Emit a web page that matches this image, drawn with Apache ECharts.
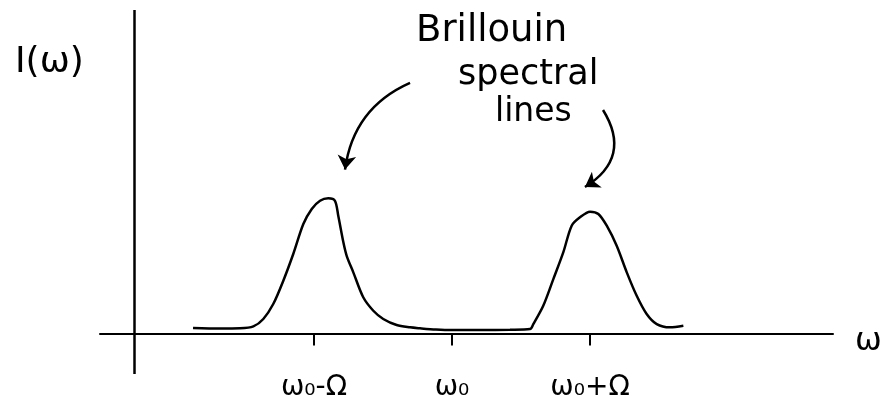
<!DOCTYPE html>
<html>
<head>
<meta charset="utf-8">
<script src="https://cdn.jsdelivr.net/npm/echarts@6/dist/echarts.min.js"></script>
<style>html,body{margin:0;padding:0;background:#fff}#c{width:893px;height:399px}</style>
</head>
<body>
<div id="c"></div>
<script>
// frequency in units of Omega, measured from omega_0
const omegaX = [-1.876,-1.681,-1.536,-1.439,-1.367,-1.295,-1.222,-1.150,-1.077,-1.016,-0.956,-0.896,-0.848,-0.824,-0.787,-0.763,-0.715,-0.643,-0.570,-0.498,-0.401,-0.304,-0.232,-0.116,0,0.203,0.420,0.565,0.589,0.661,0.734,0.806,0.867,0.927,1.000,1.060,1.121,1.193,1.266,1.338,1.410,1.483,1.579,1.676];
// intensity I(omega), arbitrary units
const intensity = [0.041,0.037,0.039,0.053,0.108,0.219,0.392,0.590,0.812,0.924,0.985,1.003,0.985,0.874,0.677,0.577,0.454,0.269,0.169,0.108,0.063,0.046,0.039,0.030,0.026,0.026,0.028,0.033,0.070,0.206,0.404,0.602,0.800,0.862,0.904,0.887,0.800,0.651,0.454,0.280,0.145,0.070,0.046,0.058];
const tickValues = [-1, 0, 1];
const tickLabels = ['ω₀-Ω', 'ω₀', 'ω₀+Ω'];
const yAxisPos = -2.304;
const annotationLines = ['Brillouin', 'spectral', 'lines'];
// arrow endpoints [x, I]
const arrowLeft = [[-0.304, 1.859], [-0.775, 1.216]];
const arrowRight = [[1.094, 1.658], [0.963, 1.087]];

const FONT = 'DejaVu Sans';
const chart = echarts.init(document.getElementById('c'));
chart.setOption({
  animation: false,
  backgroundColor: '#fff',
  title: {
    text: 'I(ω)', left: 10, top: 40,
    textStyle: { fontFamily: FONT, fontSize: 36, fontWeight: 'normal', color: '#000' }
  },
  graphic: [
    { type: 'text', left: 416, top: 13, style: { text: annotationLines[0], font: '37px "DejaVu Sans"', fill: '#000' } },
    { type: 'text', left: 458, top: 57, style: { text: annotationLines[1], font: '35px "DejaVu Sans"', fill: '#000' } },
    { type: 'text', left: 495, top: 96, style: { text: annotationLines[2], font: '33px "DejaVu Sans"', fill: '#000' } }
  ],
  grid: { left: 100, right: 60, top: 10, bottom: 25, outerBoundsMode: 'none', containLabel: false },
  xAxis: {
    type: 'value', min: -2.55, max: 2.76,
    name: 'ω', nameLocation: 'end', nameGap: 22,
    nameTextStyle: { fontFamily: FONT, fontSize: 32, color: '#000', verticalAlign: 'top', lineHeight: 16 },
    axisLine: { onZero: true, lineStyle: { color: '#000', width: 2 } },
    axisTick: { show: true, customValues: tickValues, length: 12, lineStyle: { color: '#000', width: 2 } },
    axisLabel: {
      show: true, customValues: tickValues, margin: 0,
      fontFamily: FONT, fontSize: 28, color: '#000',
      formatter: v => tickLabels[tickValues.indexOf(Math.round(v))]
    },
    splitLine: { show: false }
  },
  yAxis: {
    type: 'value', min: -0.3, max: 2.4,
    axisLine: { show: false }, axisTick: { show: false }, axisLabel: { show: false }, splitLine: { show: false }
  },
  series: [
    {
      type: 'line', smooth: 0.3, symbol: 'none',
      data: omegaX.map((x, i) => [x, intensity[i]]),
      lineStyle: { color: '#000', width: 2.5 },
      markLine: {
        silent: true, symbol: 'none', label: { show: false },
        lineStyle: { color: '#000', width: 2.5, type: 'solid' },
        data: [{ xAxis: yAxisPos }]
      }
    },
    {
      type: 'lines', coordinateSystem: 'cartesian2d', silent: true,
      symbol: ['none', 'arrow'], symbolSize: 14,
      lineStyle: { color: '#000', width: 2.5, opacity: 1 },
      data: [
        { coords: arrowLeft, lineStyle: { curveness: -0.28 } },
        { coords: arrowRight, lineStyle: { curveness: 0.5 } }
      ]
    }
  ]
});
</script>
</body>
</html>
